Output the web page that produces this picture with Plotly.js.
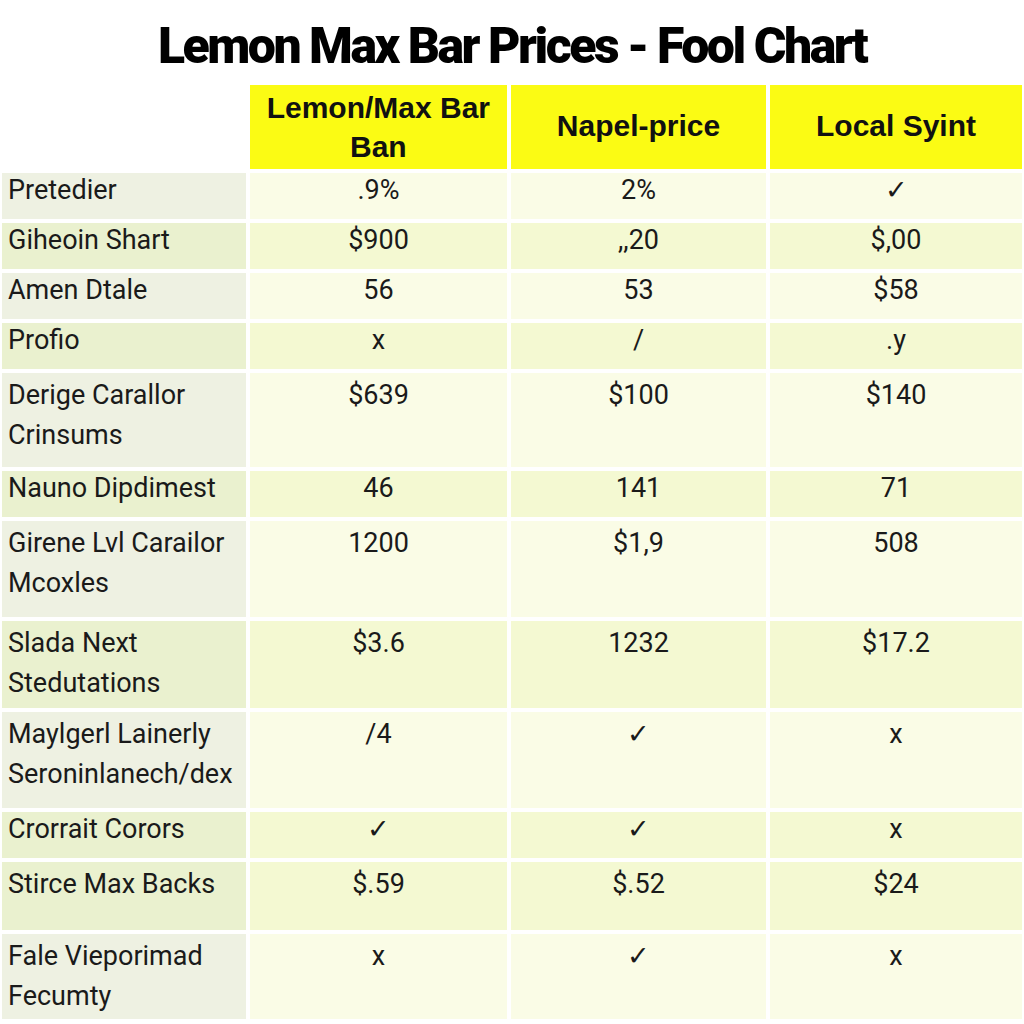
<!DOCTYPE html>
<html>
<head>
<meta charset="utf-8">
<script src="https://cdn.plot.ly/plotly-3.0.1.min.js"></script>
<style>
html,body{margin:0;padding:0;background:#fff;}
#chart{width:1024px;height:1024px;}
#chart .gtitle{letter-spacing:-2.5px;}
</style>
</head>
<body>
<div id="chart"></div>
<script>
const headers = ["", "Lemon/Max Bar<br>Ban", "Napel-price", "Local Syint"];
const rowLabels = [
  "Pretedier",
  "Giheoin Shart",
  "Amen Dtale",
  "Profio",
  "Derige Carallor<br>Crinsums",
  "Nauno Dipdimest",
  "Girene Lvl Carailor<br>Mcoxles",
  "Slada Next<br>Stedutations",
  "Maylgerl Lainerly<br>Seroninlanech/dex",
  "Crorrait Corors",
  "Stirce Max Backs",
  "Fale Vieporimad<br>Fecumty"
];
const lemonMaxValues = [".9%", "$900", "56", "x", "$639", "46", "1200", "$3.6", "/4", "✓", "$.59", "x"];
const napelValues   = ["2%", ",,20", "53", "/", "$100", "141", "$1,9", "1232", "✓", "✓", "$.52", "✓"];
const localValues   = ["✓", "$,00", "$58", ".y", "$140", "71", "508", "$17.2", "x", "x", "$24", "x"];

/* ---------- presentation (styling only) ---------- */
const TXT = 27;          // visible body text size
const LINE_BASE = 31;    // base size giving ~40px line spacing in two-line labels
// base size of an invisible pad line that sets each tall row's height (0 = none)
const rowPadStyle = [0, 0, 0, 0, 38.5, 0, 40, 33, 40, 0, 18.5, 31.5];
const span = (s, px) => '<span style="font-size:' + px + 'px">' + s + '</span>';
const isMulti = l => l.indexOf("<br>") >= 0;
const padded = v => span(v, TXT) + "<br>" + span("\u00a0", TXT);

const labelText = rowLabels.map((l, r) => isMulti(l)
  ? l.split("<br>").map(p => span(p, TXT)).join("<br>")
  : (rowPadStyle[r] ? padded(l) : l));
const labelSize = rowLabels.map((l, r) => isMulti(l) ? LINE_BASE : (rowPadStyle[r] || TXT));
const valueText = col => col.map((v, r) => rowPadStyle[r] ? padded(v) : v);
const valueSize = rowLabels.map((l, r) => rowPadStyle[r] || TXT);

const BIG = 50;
const headerText = headers.map(h => {
  if (!h) return "";
  if (isMulti(h)) return h.split("<br>").map((p, k) => k === 0 ? p : "\u00a0".repeat(10) + p).join("<br>");
  return span("\u00a0", BIG) + h + span("\u00a0", BIG) + "<br>";
});

const lightLabel = "#eef1e2", greenLabel = "#eaf1cf";
const lightCell = "#fafce6", greenCell = "#f4f9d2";
const rowShade = [0,1,0,1,0,1,0,1,0,1,1,0];
const labelFill = rowShade.map(s => s ? greenLabel : lightLabel);
const cellFill = rowShade.map(s => s ? greenCell : lightCell);

const data = [{
  type: "table",
  columnwidth: [248, 261, 259, 256],
  domain: {x: [0, 1], y: [0, 1]},
  header: {
    values: headerText,
    align: "center",
    height: 80,
    fill: {color: ["#ffffff", "#fbfb14", "#fbfb14", "#fbfb14"]},
    line: {color: "#ffffff", width: 4},
    font: {family: "Liberation Sans", size: 30, color: "#111111", weight: "bold"}
  },
  cells: {
    values: [labelText, valueText(lemonMaxValues), valueText(napelValues), valueText(localValues)],
    align: ["left", "center", "center", "center"],
    height: 50,
    fill: {color: [labelFill, cellFill, cellFill, cellFill]},
    line: {color: "#ffffff", width: 4},
    font: {family: "Roboto", size: [labelSize, valueSize, valueSize, valueSize], color: "#1a1a1a"}
  }
}];

const layout = {
  width: 1024, height: 1024,
  margin: {l: 0, r: 0, t: 83, b: 0},
  paper_bgcolor: "#ffffff",
  title: {
    text: "Lemon Max Bar Prices - Fool Chart",
    x: 0.5, xanchor: "center",
    y: 0.956, yref: "container", yanchor: "middle",
    font: {family: "Roboto", size: 50, color: "#000000", weight: 900}
  }
};
Plotly.newPlot("chart", data, layout, {displayModeBar: false});
</script>
</body>
</html>
